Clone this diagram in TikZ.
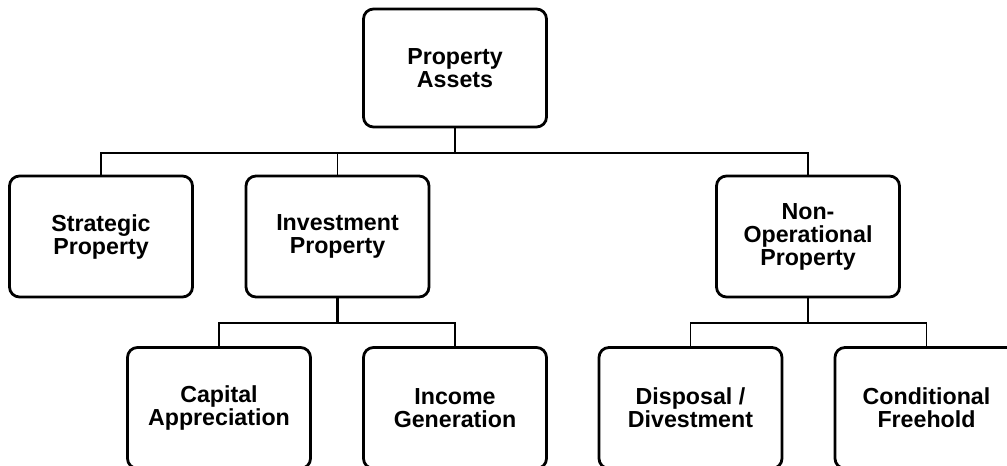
\documentclass[tikz,border=0pt]{standalone}
\usepackage{fontspec}
\setmainfont{Liberation Sans}
\usepackage{tikz}
\usetikzlibrary{calc}

\begin{document}
\begin{tikzpicture}[
    x=1pt,
    y=-1pt,
    box/.style={draw=black, line width=2.8pt, rounded corners=10pt, fill=white,
        minimum width=183pt, minimum height=121pt, inner sep=0pt, align=center,
        font=\fontsize{23.2}{23}\selectfont\bfseries},
    link/.style={draw=black, line width=1.5pt},
    stub/.style={draw=black, line width=2.6pt}
]
\useasboundingbox (0,0) rectangle (1007,466);

\node[box, minimum height=118pt] (assets) at (455,68) {Property\\Assets};

\node[box] (strat)  at (101,236.5) {Strategic\\Property};
\node[box] (invest) at (337.5,236.5) {Investment\\Property};
\node[box] (nonop)  at (808,236.5) {Non-\\Operational\\Property};

\node[box] (capital)  at (219,408) {Capital\\Appreciation};
\node[box] (income)   at (455,408) {Income\\Generation};
\node[box] (disposal) at (690.5,408) {Disposal /\\Divestment};
\node[box] (freehold) at (926.5,408) {Conditional\\Freehold};

% first level
\coordinate (busA) at (455,153);
\draw[stub] (assets.south) -- (busA);
\draw[link] (strat.north) |- (busA) -| (nonop.north);
\draw[link] (invest.north) -- (invest.north |- busA);

% second level
\coordinate (busB) at (337.5,323);
\draw[stub] (invest.south) -- (busB);
\draw[link] (capital.north) |- (busB) -| (income.north);

\coordinate (busC) at (808,323);
\draw[stub] (nonop.south) -- (busC);
\draw[link] (disposal.north) |- (busC) -| (freehold.north);
\end{tikzpicture}
\end{document}
